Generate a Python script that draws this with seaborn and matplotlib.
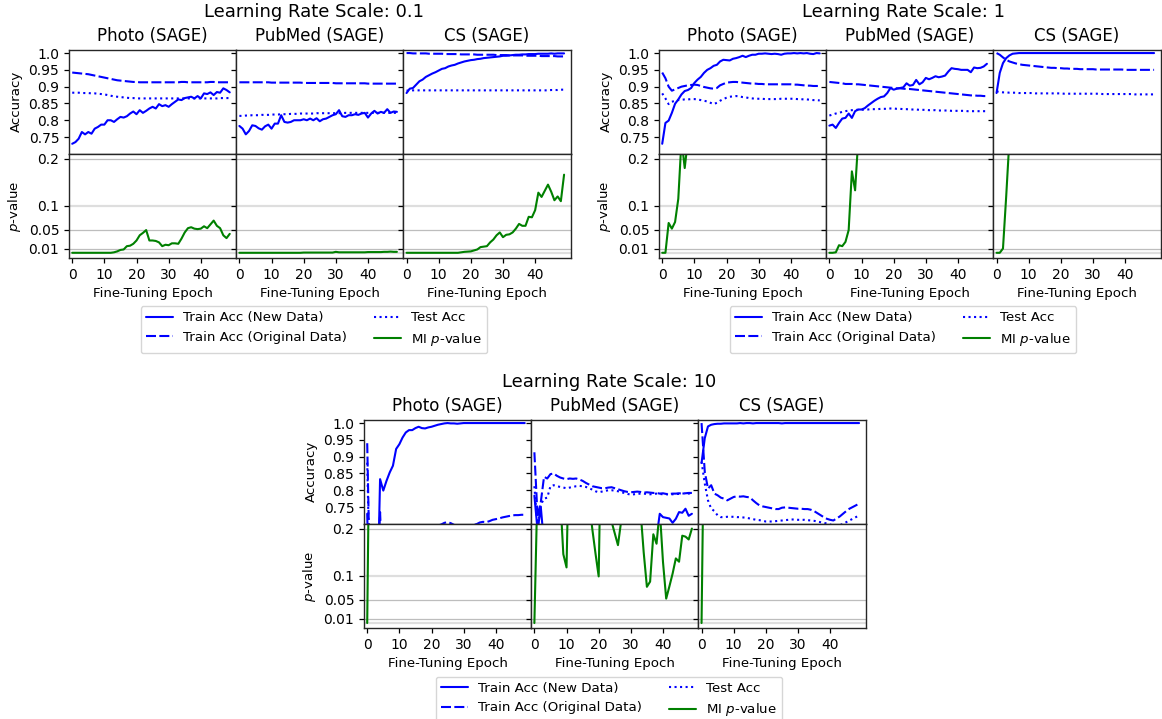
import numpy as np
import pandas as pd
import matplotlib
matplotlib.use("Agg")
import matplotlib.pyplot as plt
import seaborn as sns
from matplotlib.lines import Line2D

# ---------------- data ----------------
datasets = ["Photo", "PubMed", "CS"]
lr_scales = ["0.1", "1", "10"]
acc_ticks = [0.75, 0.8, 0.85, 0.9, 0.95, 1.0]
acc_tick_labels = ["0.75", "0.8", "0.85", "0.9", "0.95", "1.0"]
p_ticks = [0.01, 0.05, 0.1, 0.2]
p_tick_labels = ["0.01", "0.05", "0.1", "0.2"]
epoch_ticks = [0, 10, 20, 30, 40]

# ---- LR 0.1 ----
photo_lr01_new = [0.730, 0.735, 0.745, 0.765, 0.758, 0.765, 0.760, 0.775, 0.780, 0.787,
                  0.787, 0.800, 0.800, 0.795, 0.803, 0.810, 0.808, 0.812, 0.820, 0.826,
                  0.818, 0.830, 0.822, 0.828, 0.835, 0.840, 0.835, 0.848, 0.842, 0.845,
                  0.840, 0.848, 0.855, 0.862, 0.860, 0.866, 0.868, 0.870, 0.865, 0.872,
                  0.865, 0.880, 0.878, 0.883, 0.875, 0.884, 0.882, 0.895, 0.890, 0.883]
photo_lr01_orig = [0.942, 0.941, 0.940, 0.939, 0.938, 0.937, 0.935, 0.933, 0.931, 0.929,
                   0.927, 0.925, 0.923, 0.921, 0.919, 0.918, 0.917, 0.916, 0.915, 0.914,
                   0.914, 0.913, 0.913, 0.913, 0.913, 0.913, 0.913, 0.913, 0.913, 0.913,
                   0.913, 0.913, 0.913, 0.913, 0.914, 0.914, 0.913, 0.913, 0.913, 0.913,
                   0.913, 0.913, 0.913, 0.914, 0.914, 0.913, 0.913, 0.913, 0.913, 0.913]
photo_lr01_test = [0.882, 0.882, 0.882, 0.881, 0.881, 0.881, 0.880, 0.880, 0.879, 0.878,
                   0.877, 0.875, 0.873, 0.871, 0.870, 0.869, 0.868, 0.867, 0.866, 0.866,
                   0.865, 0.865, 0.865, 0.865, 0.865, 0.865, 0.865, 0.865, 0.865, 0.865,
                   0.865, 0.865, 0.865, 0.865, 0.865, 0.865, 0.865, 0.865, 0.865, 0.865,
                   0.865, 0.865, 0.865, 0.865, 0.865, 0.865, 0.866, 0.866, 0.866, 0.866]
photo_lr01_mi = [0.001, 0.001, 0.001, 0.001, 0.001, 0.001, 0.001, 0.001, 0.001, 0.001,
                 0.001, 0.001, 0.001, 0.002, 0.004, 0.007, 0.008, 0.015, 0.016, 0.020,
                 0.027, 0.038, 0.043, 0.049, 0.027, 0.027, 0.026, 0.023, 0.015, 0.018,
                 0.017, 0.021, 0.021, 0.020, 0.031, 0.044, 0.053, 0.055, 0.052, 0.051,
                 0.052, 0.057, 0.053, 0.061, 0.069, 0.058, 0.053, 0.038, 0.032, 0.041]

pubmed_lr01_new = [0.783, 0.775, 0.758, 0.768, 0.785, 0.783, 0.776, 0.772, 0.782, 0.787,
                   0.775, 0.790, 0.790, 0.815, 0.795, 0.793, 0.795, 0.800, 0.800, 0.800,
                   0.803, 0.800, 0.805, 0.800, 0.806, 0.797, 0.803, 0.805, 0.810, 0.815,
                   0.818, 0.830, 0.812, 0.810, 0.815, 0.815, 0.818, 0.816, 0.820, 0.822,
                   0.808, 0.820, 0.828, 0.820, 0.825, 0.822, 0.833, 0.822, 0.826, 0.825]
pubmed_lr01_orig = [0.913, 0.913, 0.913, 0.913, 0.913, 0.913, 0.913, 0.913, 0.913, 0.913,
                    0.912, 0.912, 0.912, 0.912, 0.912, 0.912, 0.912, 0.912, 0.912, 0.912,
                    0.911, 0.911, 0.911, 0.911, 0.911, 0.911, 0.911, 0.911, 0.911, 0.911,
                    0.910, 0.910, 0.910, 0.910, 0.910, 0.910, 0.910, 0.910, 0.910, 0.910,
                    0.909, 0.909, 0.909, 0.909, 0.909, 0.909, 0.909, 0.909, 0.909, 0.909]
pubmed_lr01_test = [0.813, 0.813, 0.814, 0.814, 0.815, 0.815, 0.815, 0.816, 0.816, 0.816,
                    0.817, 0.817, 0.817, 0.818, 0.818, 0.818, 0.819, 0.819, 0.819, 0.820,
                    0.820, 0.820, 0.820, 0.820, 0.821, 0.821, 0.821, 0.821, 0.821, 0.821,
                    0.821, 0.821, 0.821, 0.822, 0.822, 0.822, 0.822, 0.822, 0.822, 0.822,
                    0.822, 0.822, 0.822, 0.822, 0.822, 0.822, 0.822, 0.822, 0.822, 0.822]
pubmed_lr01_mi = [0.001, 0.001, 0.001, 0.001, 0.001, 0.001, 0.001, 0.001, 0.001, 0.001,
                  0.001, 0.001, 0.001, 0.001, 0.001, 0.001, 0.001, 0.001, 0.001, 0.001,
                  0.0015, 0.0015, 0.0015, 0.0015, 0.0015, 0.0015, 0.0015, 0.0015, 0.0015, 0.0015,
                  0.003, 0.002, 0.002, 0.002, 0.002, 0.002, 0.002, 0.002, 0.002, 0.002,
                  0.0025, 0.0025, 0.0025, 0.0025, 0.0025, 0.003, 0.003, 0.0035, 0.003, 0.003]

cs_lr01_new = [0.881, 0.894, 0.896, 0.906, 0.916, 0.921, 0.929, 0.934, 0.939, 0.943,
               0.948, 0.953, 0.955, 0.960, 0.963, 0.965, 0.969, 0.972, 0.975, 0.977,
               0.979, 0.980, 0.982, 0.983, 0.985, 0.986, 0.987, 0.988, 0.989, 0.990,
               0.992, 0.992, 0.993, 0.994, 0.995, 0.995, 0.996, 0.996, 0.997, 0.997,
               0.997, 0.998, 0.998, 0.998, 0.998, 0.999, 0.998, 0.999, 0.999, 0.999]
cs_lr01_orig = [1.000, 1.000, 0.999, 0.999, 0.999, 0.999, 0.999, 0.998, 0.998, 0.998,
                0.998, 0.998, 0.997, 0.997, 0.997, 0.997, 0.997, 0.996, 0.996, 0.996,
                0.996, 0.996, 0.995, 0.995, 0.995, 0.995, 0.995, 0.995, 0.994, 0.994,
                0.994, 0.994, 0.993, 0.993, 0.993, 0.993, 0.993, 0.992, 0.992, 0.992,
                0.992, 0.992, 0.991, 0.991, 0.991, 0.991, 0.991, 0.990, 0.990, 0.990]
cs_lr01_test = [0.888, 0.889, 0.889, 0.889, 0.889, 0.889, 0.889, 0.889, 0.889, 0.889,
                0.889, 0.889, 0.889, 0.889, 0.889, 0.889, 0.889, 0.889, 0.889, 0.889,
                0.889, 0.889, 0.889, 0.889, 0.889, 0.889, 0.889, 0.889, 0.889, 0.889,
                0.889, 0.889, 0.889, 0.889, 0.889, 0.889, 0.889, 0.889, 0.889, 0.889,
                0.889, 0.889, 0.889, 0.889, 0.889, 0.890, 0.890, 0.890, 0.891, 0.891]
cs_lr01_mi = [0.001, 0.001, 0.001, 0.001, 0.001, 0.001, 0.001, 0.001, 0.001, 0.001,
              0.001, 0.001, 0.001, 0.001, 0.001, 0.001, 0.001, 0.002, 0.003, 0.0035,
              0.004, 0.006, 0.008, 0.013, 0.014, 0.015, 0.023, 0.029, 0.038, 0.044,
              0.034, 0.039, 0.040, 0.044, 0.052, 0.062, 0.058, 0.058, 0.077, 0.076,
              0.091, 0.128, 0.119, 0.132, 0.145, 0.130, 0.112, 0.120, 0.110, 0.166]

# ---- LR 1 ----
photo_lr1_new = [0.730, 0.792, 0.799, 0.822, 0.849, 0.862, 0.877, 0.887, 0.890, 0.896,
                 0.911, 0.921, 0.929, 0.941, 0.950, 0.955, 0.962, 0.965, 0.975, 0.980,
                 0.979, 0.978, 0.983, 0.985, 0.988, 0.992, 0.988, 0.992, 0.995, 0.995,
                 0.998, 0.998, 0.999, 0.998, 0.997, 0.998, 0.997, 0.995, 0.998, 0.999,
                 0.999, 1.000, 0.999, 1.000, 0.999, 1.000, 0.998, 0.997, 1.000, 0.999]
photo_lr1_orig = [0.942, 0.925, 0.900, 0.888, 0.892, 0.896, 0.900, 0.902, 0.904, 0.905,
                  0.906, 0.905, 0.902, 0.899, 0.897, 0.895, 0.894, 0.896, 0.904, 0.908,
                  0.912, 0.913, 0.914, 0.914, 0.913, 0.912, 0.911, 0.910, 0.909, 0.909,
                  0.908, 0.908, 0.907, 0.907, 0.907, 0.907, 0.907, 0.907, 0.907, 0.907,
                  0.907, 0.906, 0.906, 0.905, 0.904, 0.903, 0.903, 0.902, 0.902, 0.902]
photo_lr1_test = [0.880, 0.865, 0.848, 0.855, 0.858, 0.860, 0.861, 0.862, 0.862, 0.863,
                  0.863, 0.862, 0.860, 0.858, 0.856, 0.852, 0.848, 0.852, 0.858, 0.863,
                  0.867, 0.870, 0.871, 0.872, 0.871, 0.869, 0.868, 0.866, 0.865, 0.864,
                  0.864, 0.864, 0.863, 0.863, 0.863, 0.863, 0.863, 0.864, 0.864, 0.864,
                  0.864, 0.864, 0.863, 0.863, 0.862, 0.862, 0.861, 0.860, 0.860, 0.859]
photo_lr1_mi = [0.001, 0.001, 0.064, 0.052, 0.066, 0.115, 0.240, 0.180, 0.240, 0.330,
                0.420, 0.510, 0.560, 0.610, 0.650, 0.690, 0.720, 0.700, 0.750, 0.780,
                0.760, 0.800, 0.820, 0.790, 0.840, 0.860, 0.830, 0.870, 0.890, 0.880,
                0.900, 0.870, 0.910, 0.890, 0.920, 0.900, 0.930, 0.910, 0.940, 0.920,
                0.930, 0.950, 0.940, 0.930, 0.950, 0.960, 0.940, 0.950, 0.960, 0.950]

pubmed_lr1_new = [0.784, 0.787, 0.777, 0.792, 0.805, 0.807, 0.820, 0.807, 0.827, 0.832,
                  0.832, 0.836, 0.844, 0.851, 0.858, 0.864, 0.869, 0.871, 0.881, 0.896,
                  0.891, 0.894, 0.896, 0.898, 0.910, 0.903, 0.905, 0.920, 0.907, 0.913,
                  0.926, 0.922, 0.926, 0.931, 0.928, 0.930, 0.933, 0.945, 0.955, 0.953,
                  0.952, 0.950, 0.950, 0.950, 0.943, 0.957, 0.955, 0.956, 0.960, 0.968]
pubmed_lr1_orig = [0.914, 0.913, 0.912, 0.911, 0.910, 0.908, 0.908, 0.908, 0.907, 0.907,
                   0.906, 0.905, 0.904, 0.903, 0.902, 0.901, 0.900, 0.899, 0.898, 0.897,
                   0.896, 0.895, 0.895, 0.894, 0.893, 0.893, 0.892, 0.891, 0.890, 0.889,
                   0.888, 0.887, 0.886, 0.885, 0.884, 0.883, 0.882, 0.881, 0.880, 0.879,
                   0.878, 0.877, 0.876, 0.875, 0.874, 0.874, 0.873, 0.873, 0.872, 0.872]
pubmed_lr1_test = [0.814, 0.817, 0.820, 0.822, 0.825, 0.827, 0.829, 0.830, 0.831, 0.831,
                   0.831, 0.832, 0.832, 0.833, 0.833, 0.833, 0.834, 0.834, 0.834, 0.835,
                   0.835, 0.834, 0.834, 0.833, 0.833, 0.832, 0.832, 0.832, 0.831, 0.831,
                   0.831, 0.830, 0.830, 0.830, 0.829, 0.829, 0.829, 0.829, 0.828, 0.828,
                   0.828, 0.828, 0.828, 0.827, 0.827, 0.827, 0.827, 0.827, 0.827, 0.827]
pubmed_lr1_mi = [0.001, 0.001, 0.002, 0.017, 0.015, 0.024, 0.049, 0.173, 0.133, 0.243,
                 0.380, 0.460, 0.520, 0.580, 0.610, 0.650, 0.700, 0.680, 0.730, 0.760,
                 0.740, 0.790, 0.810, 0.780, 0.830, 0.850, 0.820, 0.860, 0.880, 0.870,
                 0.890, 0.900, 0.880, 0.910, 0.920, 0.900, 0.930, 0.920, 0.940, 0.930,
                 0.950, 0.940, 0.930, 0.950, 0.960, 0.950, 0.940, 0.960, 0.970, 0.960]

cs_lr1_new = [0.881, 0.941, 0.970, 0.985, 0.993, 0.998, 0.999, 1.000, 1.000, 1.000,
              1.000, 1.000, 1.000, 1.000, 1.000, 1.000, 1.000, 1.000, 1.000, 1.000,
              1.000, 1.000, 1.000, 1.000, 1.000, 1.000, 1.000, 1.000, 1.000, 1.000,
              1.000, 1.000, 1.000, 1.000, 1.000, 1.000, 1.000, 1.000, 1.000, 1.000,
              1.000, 1.000, 1.000, 1.000, 1.000, 1.000, 1.000, 1.000, 1.000, 1.000]
cs_lr1_orig = [1.000, 0.995, 0.987, 0.980, 0.975, 0.972, 0.969, 0.967, 0.965, 0.964,
               0.963, 0.962, 0.961, 0.960, 0.959, 0.958, 0.957, 0.956, 0.956, 0.955,
               0.955, 0.954, 0.954, 0.953, 0.953, 0.953, 0.952, 0.952, 0.952, 0.952,
               0.952, 0.951, 0.951, 0.951, 0.951, 0.951, 0.951, 0.951, 0.951, 0.951,
               0.950, 0.950, 0.950, 0.950, 0.950, 0.950, 0.950, 0.950, 0.950, 0.950]
cs_lr1_test = [0.886, 0.884, 0.883, 0.883, 0.882, 0.882, 0.882, 0.881, 0.881, 0.881,
               0.881, 0.881, 0.880, 0.880, 0.880, 0.880, 0.880, 0.880, 0.880, 0.880,
               0.880, 0.879, 0.879, 0.879, 0.879, 0.879, 0.879, 0.879, 0.879, 0.879,
               0.879, 0.879, 0.879, 0.878, 0.878, 0.878, 0.878, 0.878, 0.878, 0.878,
               0.878, 0.878, 0.878, 0.877, 0.877, 0.877, 0.877, 0.877, 0.877, 0.877]
cs_lr1_mi = [0.001, 0.001, 0.010, 0.120, 0.240, 0.410, 0.530, 0.600, 0.660, 0.700,
             0.730, 0.760, 0.780, 0.800, 0.820, 0.840, 0.850, 0.860, 0.870, 0.880,
             0.890, 0.890, 0.900, 0.910, 0.910, 0.920, 0.920, 0.930, 0.930, 0.940,
             0.940, 0.940, 0.950, 0.950, 0.950, 0.960, 0.960, 0.960, 0.960, 0.970,
             0.970, 0.970, 0.970, 0.970, 0.980, 0.980, 0.980, 0.980, 0.980, 0.980]

# ---- LR 10 ----
photo_lr10_new = [0.730, 0.350, 0.300, 0.400, 0.833, 0.799, 0.828, 0.853, 0.873, 0.923,
                  0.937, 0.957, 0.972, 0.979, 0.979, 0.985, 0.989, 0.985, 0.984, 0.987,
                  0.989, 0.992, 0.995, 0.997, 0.999, 1.000, 0.999, 0.999, 0.998, 0.999,
                  1.000, 1.000, 1.000, 1.000, 1.000, 1.000, 1.000, 1.000, 1.000, 1.000,
                  1.000, 1.000, 1.000, 1.000, 1.000, 1.000, 1.000, 1.000, 1.000, 1.000]
photo_lr10_orig = [0.940, 0.450, 0.420, 0.500, 0.735, 0.500, 0.550, 0.580, 0.600, 0.620,
                   0.630, 0.640, 0.650, 0.660, 0.660, 0.670, 0.670, 0.680, 0.680, 0.685,
                   0.690, 0.690, 0.695, 0.698, 0.703, 0.705, 0.702, 0.697, 0.693, 0.690,
                   0.690, 0.692, 0.694, 0.697, 0.699, 0.704, 0.706, 0.705, 0.708, 0.712,
                   0.714, 0.716, 0.719, 0.721, 0.723, 0.725, 0.726, 0.726, 0.727, 0.727]
photo_lr10_test = [0.882, 0.450, 0.400, 0.480, 0.550, 0.520, 0.560, 0.580, 0.600, 0.610,
                   0.620, 0.630, 0.630, 0.640, 0.640, 0.645, 0.650, 0.650, 0.655, 0.660,
                   0.660, 0.660, 0.665, 0.665, 0.670, 0.670, 0.668, 0.665, 0.662, 0.660,
                   0.660, 0.662, 0.664, 0.666, 0.668, 0.670, 0.672, 0.672, 0.674, 0.676,
                   0.678, 0.680, 0.682, 0.683, 0.684, 0.685, 0.686, 0.686, 0.687, 0.687]
photo_lr10_mi = [0.0005, 0.620, 0.700, 0.740, 0.760, 0.790, 0.800, 0.820, 0.830, 0.850,
                 0.860, 0.870, 0.880, 0.880, 0.890, 0.900, 0.900, 0.910, 0.910, 0.920,
                 0.920, 0.930, 0.930, 0.930, 0.940, 0.940, 0.940, 0.950, 0.950, 0.950,
                 0.950, 0.960, 0.960, 0.960, 0.960, 0.960, 0.970, 0.970, 0.970, 0.970,
                 0.970, 0.970, 0.980, 0.980, 0.980, 0.980, 0.980, 0.980, 0.980, 0.980]

pubmed_lr10_new = [0.784, 0.680, 0.750, 0.640, 0.620, 0.600, 0.610, 0.600, 0.620, 0.610,
                   0.630, 0.620, 0.630, 0.640, 0.630, 0.640, 0.650, 0.640, 0.650, 0.660,
                   0.650, 0.660, 0.660, 0.670, 0.660, 0.670, 0.670, 0.680, 0.670, 0.680,
                   0.680, 0.680, 0.690, 0.680, 0.690, 0.690, 0.680, 0.690, 0.660, 0.730,
                   0.720, 0.718, 0.716, 0.703, 0.715, 0.735, 0.733, 0.745, 0.724, 0.730]
pubmed_lr10_orig = [0.913, 0.720, 0.765, 0.840, 0.835, 0.848, 0.850, 0.843, 0.838, 0.835,
                    0.833, 0.835, 0.834, 0.835, 0.832, 0.828, 0.822, 0.817, 0.812, 0.810,
                    0.808, 0.806, 0.806, 0.808, 0.809, 0.806, 0.803, 0.800, 0.797, 0.795,
                    0.794, 0.795, 0.796, 0.795, 0.793, 0.794, 0.793, 0.792, 0.792, 0.790,
                    0.791, 0.789, 0.789, 0.790, 0.790, 0.791, 0.790, 0.791, 0.792, 0.792]
pubmed_lr10_test = [0.812, 0.690, 0.757, 0.775, 0.778, 0.812, 0.815, 0.812, 0.810, 0.808,
                    0.806, 0.808, 0.810, 0.812, 0.813, 0.812, 0.810, 0.806, 0.802, 0.797,
                    0.794, 0.796, 0.798, 0.800, 0.800, 0.799, 0.797, 0.794, 0.792, 0.789,
                    0.787, 0.788, 0.789, 0.790, 0.790, 0.789, 0.788, 0.789, 0.790, 0.789,
                    0.788, 0.788, 0.787, 0.788, 0.789, 0.789, 0.790, 0.791, 0.790, 0.792]
pubmed_lr10_mi = [0.0005, 0.300, 0.700, 0.620, 0.500, 0.450, 0.380, 0.330, 0.274, 0.146,
                  0.118, 0.450, 0.500, 0.420, 0.380, 0.350, 0.310, 0.260, 0.200, 0.148,
                  0.099, 0.500, 0.400, 0.330, 0.215, 0.190, 0.165, 0.216, 0.350, 0.420,
                  0.450, 0.380, 0.310, 0.240, 0.150, 0.077, 0.088, 0.188, 0.168, 0.240,
                  0.130, 0.052, 0.078, 0.105, 0.137, 0.130, 0.185, 0.183, 0.177, 0.200]

cs_lr10_new = [0.881, 0.955, 0.990, 0.995, 0.997, 0.998, 0.998, 0.999, 0.999, 0.999,
               0.999, 0.999, 1.000, 0.999, 1.000, 1.000, 0.999, 1.000, 1.000, 1.000,
               1.000, 1.000, 1.000, 1.000, 1.000, 0.999, 1.000, 1.000, 1.000, 1.000,
               1.000, 1.000, 1.000, 1.000, 1.000, 1.000, 1.000, 1.000, 1.000, 1.000,
               1.000, 1.000, 1.000, 1.000, 1.000, 1.000, 1.000, 1.000, 1.000, 1.000]
cs_lr10_orig = [1.000, 0.855, 0.805, 0.815, 0.790, 0.785, 0.778, 0.775, 0.770, 0.775,
                0.780, 0.782, 0.781, 0.782, 0.780, 0.779, 0.770, 0.762, 0.755, 0.752,
                0.750, 0.748, 0.746, 0.744, 0.744, 0.748, 0.749, 0.748, 0.747, 0.746,
                0.745, 0.745, 0.744, 0.744, 0.742, 0.738, 0.732, 0.726, 0.720, 0.715,
                0.712, 0.710, 0.716, 0.722, 0.730, 0.738, 0.745, 0.750, 0.755, 0.760]
cs_lr10_test = [0.885, 0.820, 0.770, 0.745, 0.738, 0.725, 0.720, 0.720, 0.721, 0.721,
                0.721, 0.720, 0.720, 0.719, 0.718, 0.716, 0.714, 0.712, 0.711, 0.709,
                0.707, 0.707, 0.707, 0.708, 0.709, 0.710, 0.711, 0.712, 0.713, 0.713,
                0.712, 0.712, 0.712, 0.711, 0.710, 0.709, 0.707, 0.705, 0.703, 0.701,
                0.698, 0.695, 0.694, 0.696, 0.700, 0.705, 0.710, 0.715, 0.720, 0.725]
cs_lr10_mi = [0.0005, 0.550, 0.650, 0.720, 0.760, 0.790, 0.810, 0.830, 0.850, 0.860,
              0.870, 0.880, 0.890, 0.900, 0.900, 0.910, 0.920, 0.920, 0.930, 0.930,
              0.940, 0.940, 0.940, 0.950, 0.950, 0.950, 0.950, 0.960, 0.960, 0.960,
              0.960, 0.960, 0.970, 0.970, 0.970, 0.970, 0.970, 0.970, 0.980, 0.980,
              0.980, 0.980, 0.980, 0.980, 0.980, 0.980, 0.990, 0.990, 0.990, 0.990]

series_data = {
    ("0.1", "Photo"): (photo_lr01_new, photo_lr01_orig, photo_lr01_test, photo_lr01_mi),
    ("0.1", "PubMed"): (pubmed_lr01_new, pubmed_lr01_orig, pubmed_lr01_test, pubmed_lr01_mi),
    ("0.1", "CS"): (cs_lr01_new, cs_lr01_orig, cs_lr01_test, cs_lr01_mi),
    ("1", "Photo"): (photo_lr1_new, photo_lr1_orig, photo_lr1_test, photo_lr1_mi),
    ("1", "PubMed"): (pubmed_lr1_new, pubmed_lr1_orig, pubmed_lr1_test, pubmed_lr1_mi),
    ("1", "CS"): (cs_lr1_new, cs_lr1_orig, cs_lr1_test, cs_lr1_mi),
    ("10", "Photo"): (photo_lr10_new, photo_lr10_orig, photo_lr10_test, photo_lr10_mi),
    ("10", "PubMed"): (pubmed_lr10_new, pubmed_lr10_orig, pubmed_lr10_test, pubmed_lr10_mi),
    ("10", "CS"): (cs_lr10_new, cs_lr10_orig, cs_lr10_test, cs_lr10_mi),
}
series_keys = ["new", "orig", "test", "mi"]
series_labels = ["Train Acc (New Data)", "Train Acc (Original Data)", "Test Acc", r"MI $p$-value"]

rows = []
for (lr, ds), vals in series_data.items():
    for key, v in zip(series_keys, vals):
        for e, val in enumerate(v):
            rows.append((lr, ds, key, e, val))
df = pd.DataFrame(rows, columns=["lr", "dataset", "series", "epoch", "value"])

# ---------------- style ----------------
sns.set_style("ticks")
plt.rcParams.update({
    "font.family": ["DejaVu Sans"],
    "axes.edgecolor": "#262626",
    "axes.linewidth": 1.0,
    "xtick.color": "black", "ytick.color": "black",
    "text.color": "black", "axes.labelcolor": "black",
    "xtick.direction": "out", "ytick.direction": "out",
    "xtick.major.size": 3.5, "ytick.major.size": 3.5,
    "xtick.major.width": 0.9, "ytick.major.width": 0.9,
    "xtick.labelsize": 10, "ytick.labelsize": 10,
    "axes.labelsize": 9.6, "axes.titlesize": 12,
    "legend.fontsize": 9.6,
})

W, H = 1162, 719
fig = plt.figure(figsize=(W / 100, H / 100), dpi=100)

DASHED = (0, (4.8, 1.6))
styles = {"new": ("blue", "-"), "orig": ("blue", DASHED), "test": ("blue", ":"), "mi": ("green", "-")}

layout = {
    "0.1": dict(l=69, r=570.5, t=49.7, b=258, cx=314, ty=11.7, ly=306),
    "1": dict(l=659, r=1160.5, t=49.7, b=258, cx=903, ty=11.7, ly=306),
    "10": dict(l=364, r=865.5, t=419.7, b=628, cx=609, ty=381.7, ly=676.5),
}

for lr in lr_scales:
    g = layout[lr]
    gs = fig.add_gridspec(2, 3, left=g["l"] / W, right=g["r"] / W,
                          top=1 - g["t"] / H, bottom=1 - g["b"] / H,
                          hspace=0, wspace=0)
    for j, ds in enumerate(datasets):
        ax_t = fig.add_subplot(gs[0, j])
        ax_b = fig.add_subplot(gs[1, j])
        sub = df[(df.lr == lr) & (df.dataset == ds)]
        for key in ["new", "orig", "test"]:
            c, ls = styles[key]
            sns.lineplot(data=sub[sub.series == key], x="epoch", y="value", ax=ax_t,
                         color=c, linestyle=ls, linewidth=1.5, estimator=None, legend=False)
        for y in [0.01, 0.05, 0.2]:
            ax_b.axhline(y, color="#bdbdbd", lw=0.9, zorder=0)
        for y in [0.0, 0.1]:
            ax_b.axhline(y, color="#dedede", lw=1.6, zorder=0)
        c, ls = styles["mi"]
        sns.lineplot(data=sub[sub.series == "mi"], x="epoch", y="value", ax=ax_b,
                     color=c, linestyle=ls, linewidth=1.5, estimator=None, legend=False)

        for ax in (ax_t, ax_b):
            ax.set_xlim(-1, 51)
            ax.set_xticks(epoch_ticks)
            ax.set_xlabel("")
            ax.set_ylabel("")
        ax_t.set_ylim(0.70, 1.01)
        ax_t.set_yticks(acc_ticks)
        ax_t.set_yticklabels(acc_tick_labels)
        ax_t.tick_params(axis="x", bottom=False, labelbottom=False)
        ax_b.set_ylim(-0.01, 0.21)
        ax_b.set_yticks(p_ticks)
        ax_b.set_yticklabels(p_tick_labels)
        ax_b.set_xlabel("Fine-Tuning Epoch")
        ax_t.set_title(f"{ds} (SAGE)")
        if j == 0:
            ax_t.set_ylabel("Accuracy")
            ax_b.set_ylabel(r"$p$-value")
        else:
            ax_t.tick_params(axis="y", labelleft=False)
            ax_b.tick_params(axis="y", labelleft=False)

    fig.text(g["cx"] / W, 1 - g["ty"] / H, f"Learning Rate Scale: {lr}",
             ha="center", va="center", fontsize=13)
    handles = [Line2D([], [], color=styles[k][0], linestyle=styles[k][1], linewidth=1.5)
               for k in series_keys]
    fig.legend(handles, series_labels, loc="upper center",
               bbox_to_anchor=(g["cx"] / W, 1 - g["ly"] / H), ncol=2,
               borderaxespad=0, frameon=True)

fig.savefig("out.png", dpi=100)
